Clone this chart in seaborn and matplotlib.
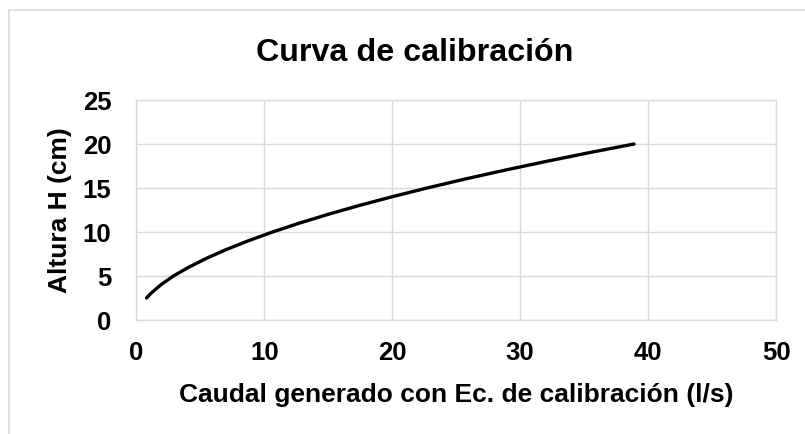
import matplotlib
matplotlib.use("Agg")
import matplotlib.pyplot as plt
from matplotlib.patches import Rectangle
import pandas as pd
import seaborn as sns

# Calibration curve: flow from the calibration equation vs. water height
caudal = [0.8, 1.12, 1.92, 2.9, 4.1, 5.47, 7.02, 8.75, 10.65, 12.73, 14.98,
          17.39, 19.98, 22.73, 25.64, 28.73, 31.97, 35.35, 38.9]
altura = [2.5, 3, 4, 5, 6, 7, 8, 9, 10, 11, 12,
          13, 14, 15, 16, 17, 18, 19, 20]
x_ticks = [0, 10, 20, 30, 40, 50]
y_ticks = [0, 5, 10, 15, 20, 25]

titulo = "Curva de calibración"
etiqueta_x = "Caudal generado con Ec. de calibración (l/s)"
etiqueta_y = "Altura H (cm)"

df = pd.DataFrame({"Caudal": caudal, "Altura": altura})

sns.set_theme(style="whitegrid")
plt.rcParams["font.family"] = ["Liberation Sans", "DejaVu Sans"]
plt.rcParams["font.weight"] = "bold"

W, H = 805, 434
fig = plt.figure(figsize=(W / 100, H / 100), dpi=100)
fig.patch.set_facecolor("white")

left, right, bottom, top = 136.3, 776.0, 320.0, 100.0
ax = fig.add_axes([left / W, 1 - bottom / H, (right - left) / W, (bottom - top) / H])
ax.set_facecolor("white")

grid_color = "#d9d9d9"

sns.lineplot(data=df, x="Caudal", y="Altura", ax=ax, color="black",
             linewidth=2.4, sort=False, estimator=None,
             solid_capstyle="round", solid_joinstyle="round")

ax.set_xlim(x_ticks[0], x_ticks[-1])
ax.set_ylim(y_ticks[0], y_ticks[-1])
ax.set_xticks(x_ticks)
ax.set_yticks(y_ticks)
ax.grid(True, color=grid_color, linewidth=1.0)
for s in ax.spines.values():
    s.set_color(grid_color)
    s.set_linewidth(1.0)

ax.tick_params(axis="both", length=0, labelsize=18.5, colors="black")
ax.tick_params(axis="y", pad=18)
ax.tick_params(axis="x", pad=15)
for lbl in ax.get_xticklabels() + ax.get_yticklabels():
    lbl.set_fontweight("bold")

ax.set_xlabel(etiqueta_x, fontsize=19, fontweight="bold", color="black")
ax.set_ylabel(etiqueta_y, fontsize=19, fontweight="bold", color="black")
ax.xaxis.set_label_coords(0.5, (bottom - 402) / (bottom - top))
ax.xaxis.label.set_va("baseline")
ax.yaxis.set_label_coords((60 - left) / (right - left), 0.5)
ax.yaxis.label.set_va("center")

fig.text(414.5 / W, 1 - 60.7 / H, titulo, ha="center", va="baseline",
         fontsize=23.2, fontweight="bold", color="black")

# light frame around the chart area
fig.patches.append(Rectangle((9 / W, -0.1), 1.2, 1 - 10 / H + 0.1,
                             transform=fig.transFigure, fill=False,
                             edgecolor=grid_color, linewidth=1.2))

fig.savefig("out.png", dpi=100, facecolor="white")
